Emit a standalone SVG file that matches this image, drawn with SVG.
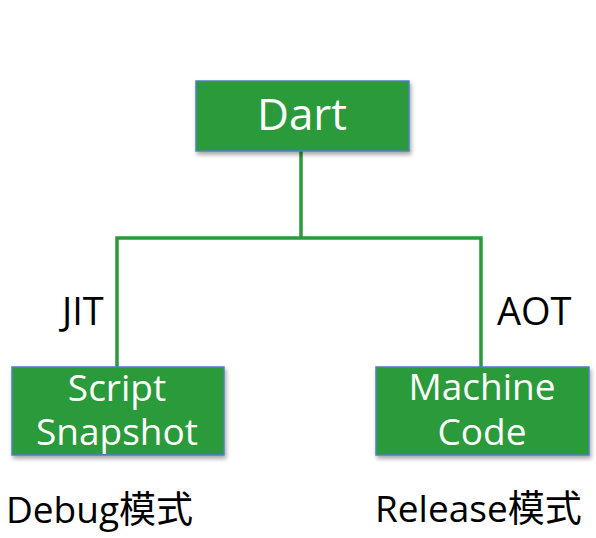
<svg xmlns="http://www.w3.org/2000/svg" width="596" height="538" viewBox="0 0 596 538">
<style>
.box{fill:#2a9a3a;stroke:#4f7fbf;stroke-width:1.5}
.nt{font-family:"Open Sans","Noto Sans CJK SC",sans-serif;fill:#ffffff;text-anchor:middle}
.lb{font-family:"Open Sans","Noto Sans CJK SC",sans-serif;fill:#000000}
.ln{stroke:#2a9a3a;stroke-width:3.5;fill:none}
</style>
<defs>
<filter id="sh" x="-10%" y="-10%" width="130%" height="140%">
<feDropShadow dx="1.5" dy="3" stdDeviation="2" flood-color="#000" flood-opacity="0.35"/>
</filter>
</defs>
<rect width="596" height="538" fill="#ffffff"/>
<g id="connectors">
<path class="ln" d="M301 151 V238"/>
<path class="ln" d="M117 367 V238 H481 V367"/>
</g>
<g id="node-dart">
<rect class="box" x="196" y="81" width="213" height="70" filter="url(#sh)"/>
<text class="nt" x="302" y="130" font-size="44">Dart</text>
</g>
<g id="node-script">
<rect class="box" x="12" y="367" width="212" height="88" filter="url(#sh)"/>
<text class="nt" font-size="37"><tspan x="117" y="401">Script</tspan><tspan x="117" y="445">Snapshot</tspan></text>
</g>
<g id="node-machine">
<rect class="box" x="376" y="367" width="213" height="88" filter="url(#sh)"/>
<text class="nt" font-size="37"><tspan x="482" y="400">Machine</tspan><tspan x="482" y="445">Code</tspan></text>
</g>
<g id="labels">
<text class="lb" x="62" y="325" font-size="38">JIT</text>
<text class="lb" x="497" y="325" font-size="38">AOT</text>
<text class="lb" x="6" y="523" font-size="37">Debug模式</text>
<text class="lb" x="375" y="522" font-size="37">Release模式</text>
</g>
</svg>
